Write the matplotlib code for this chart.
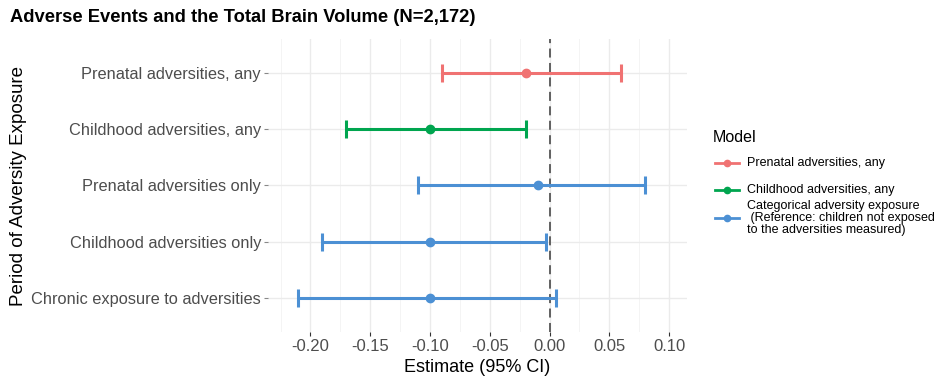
import matplotlib.pyplot as plt
import numpy as np
from matplotlib.lines import Line2D
from matplotlib.ticker import MultipleLocator

plt.rcParams['font.family'] = ['Liberation Sans', 'DejaVu Sans']

# dados (de cima para baixo)
labels = ["Prenatal adversities, any", "Childhood adversities, any",
          "Prenatal adversities only", "Childhood adversities only",
          "Chronic exposure to adversities"]
estimate = [-0.02, -0.10, -0.01, -0.10, -0.10]
lower = [-0.09, -0.17, -0.11, -0.19, -0.21]
upper = [0.06, -0.02, 0.08, -0.003, 0.005]
model = [0, 1, 2, 2, 2]

model_names = ["Prenatal adversities, any", "Childhood adversities, any",
               "Categorical adversity exposure\n (Reference: children not exposed\nto the adversities measured)"]
cores = ["#F07272", "#00A54F", "#4C90D4"]

W, H = 950, 379
fig = plt.figure(figsize=(9.5, 3.79), dpi=100)
ax = fig.add_axes([268 / W, 1 - 332 / H, (687 - 268) / W, (332 - 39) / H])

ypos = np.arange(len(labels))[::-1] + 1
for i in range(len(labels)):
    c = cores[model[i]]
    ax.errorbar(estimate[i], ypos[i],
                xerr=[[estimate[i] - lower[i]], [upper[i] - estimate[i]]],
                fmt='o', color=c, ms=6, elinewidth=2.2, capsize=6.5,
                capthick=2.2, zorder=3)

ax.axvline(0, color="#555555", lw=1.3, ls=(0, (5, 3)), zorder=2)

ax.set_xlim(-0.2355, 0.115)
ax.set_ylim(0.4, 5.6)
ax.set_yticks(ypos)
ax.set_yticklabels(labels)
ax.xaxis.set_minor_locator(MultipleLocator(0.025))
ax.set_xticks(np.arange(-0.20, 0.101, 0.05))
ax.set_xticklabels(["-0.20", "-0.15", "-0.10", "-0.05", "0.00", "0.05", "0.10"])

ax.grid(which='major', color="#EBEBEB", lw=1.0)
ax.grid(which='minor', axis='x', color="#F2F2F2", lw=0.6)
ax.set_axisbelow(True)
for s in ax.spines.values():
    s.set_visible(False)
ax.tick_params(axis='both', which='major', length=3, color="#333333",
               labelcolor="#4D4D4D", labelsize=12, pad=2)
ax.tick_params(axis='y', color="#888888", labelsize=11.8)
ax.tick_params(axis='x', which='minor', length=0)

ax.set_xlabel("Estimate (95% CI)", fontsize=13, labelpad=4)
ax.set_ylabel("Period of Adversity Exposure", fontsize=13.5, labelpad=3)

fig.text(10 / W, 1 - 18 / H, "Adverse Events and the Total Brain Volume (N=2,172)",
         fontsize=13.2, fontweight='bold', va='center', ha='left')

# legenda montada à mão (espaçamento como no original)
fig.text(713 / W, 1 - 137 / H, "Model", fontsize=11.5, va='center', ha='left')
leg_y = [163, 190, 218]
for c, nome, yy in zip(cores, model_names, leg_y):
    yf = 1 - yy / H
    fig.add_artist(Line2D([715 / W, 739 / W], [yf, yf], color=c, lw=2,
                          transform=fig.transFigure))
    fig.add_artist(Line2D([727 / W], [yf], color=c, marker='o', ms=4.5,
                          transform=fig.transFigure))
    fig.text(747 / W, yf, nome, fontsize=9, va='center', ha='left',
             linespacing=0.95)

fig.savefig("out.png", dpi=100)
